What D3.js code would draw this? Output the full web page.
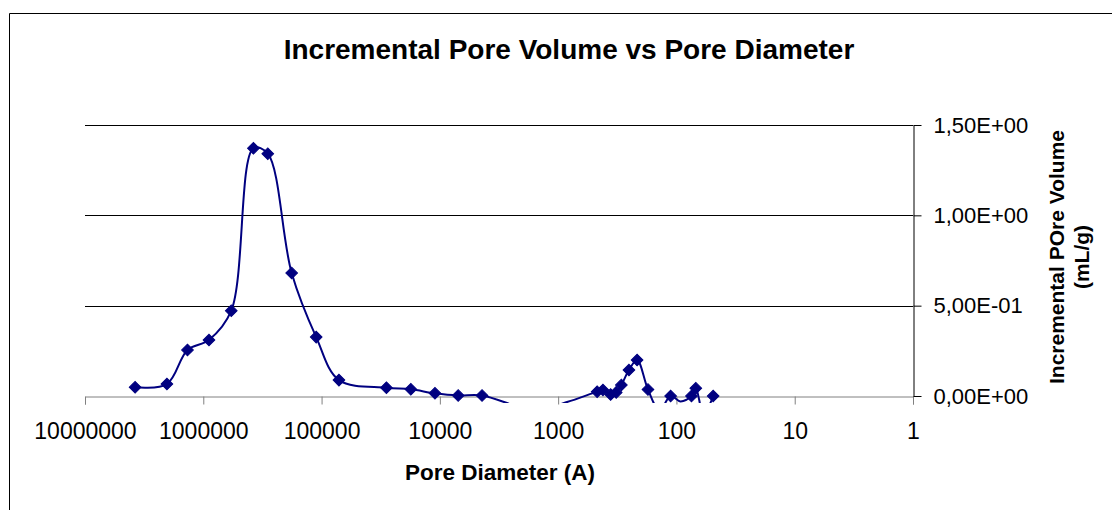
<!DOCTYPE html>
<html>
<head>
<meta charset="utf-8">
<script src="https://cdn.jsdelivr.net/npm/d3@7"></script>
<style>
  body { margin: 0; background: #fff; }
  svg { font-family: "Liberation Sans", Arial, sans-serif; }
</style>
</head>
<body>
<svg id="chart" width="1112" height="510"></svg>
<script>
// pore diameter (A) and incremental pore volume (mL/g)
let diameters = [3770000, 2030000, 1360000, 895000, 580000, 377000, 285000, 179000,
    111000, 71300, 28300, 17600, 11000, 7000, 4400, 1550, 855, 468, 418, 360, 323,
    292, 252, 215, 174, 139, 112, 92.5, 74.6, 68.6, 59, 48.9];
let volumes = [0.048, 0.066, 0.255, 0.31, 0.472, 1.371, 1.341, 0.681, 0.326, 0.088,
    0.046, 0.037, 0.015, 0.003, 0.003, -0.08, -0.035, 0.024, 0.033, 0.008, 0.02,
    0.061, 0.144, 0.199, 0.036, -0.08, 0.0, -0.03, 0.0, 0.043, -0.1, 0.0];
let xTicks = [10000000, 1000000, 100000, 10000, 1000, 100, 10, 1];
let yTicks = [0, 0.5, 1.0, 1.5];

let points = diameters.map(function(d, i) { return {d: d, v: volumes[i]}; });

let plotLeft = 85, plotRight = 913, plotTop = 125, plotBottom = 396;
let navy = '#000080';

let svg = d3.select('#chart');

// outer chart frame (runs off the right and bottom edges)
svg.append('path')
    .attr('d', 'M9.5,520 L9.5,13.5 L1120,13.5')
    .attr('fill', 'none')
    .attr('stroke', '#000')
    .attr('stroke-width', 1);

let x = d3.scaleLog().domain([10000000, 1]).range([plotLeft, plotRight]);
let y = d3.scaleLinear().domain([0, 1.5]).range([plotBottom, plotTop]);

// 1,50E+00 style labels
function sciComma(v) {
    let parts = v.toExponential(2).split('e');
    let exp = parseInt(parts[1], 10);
    let sign = exp < 0 ? '-' : '+';
    let e = String(Math.abs(exp)).padStart(2, '0');
    return parts[0].replace('.', ',') + 'E' + sign + e;
}

// gridlines
svg.append('g').selectAll('line')
    .data(yTicks.filter(function(t) { return t > 0; }))
    .enter().append('line')
    .attr('x1', plotLeft).attr('x2', plotRight)
    .attr('y1', function(d) { return Math.round(y(d)) + 0.5; })
    .attr('y2', function(d) { return Math.round(y(d)) + 0.5; })
    .attr('stroke', '#000')
    .attr('stroke-width', 1);

// x axis
let xAxis = svg.append('g')
    .attr('transform', 'translate(0,' + (plotBottom + 0.5) + ')')
    .call(d3.axisBottom(x).tickValues(xTicks).tickSize(8).tickPadding(18)
        .tickFormat(function(d) { return String(d); }));
xAxis.select('.domain').attr('stroke', '#808080');
xAxis.selectAll('.tick line').attr('stroke', '#808080');
xAxis.selectAll('text').attr('font-size', 23).attr('fill', '#000');

// y axis on the right
let yAxis = svg.append('g')
    .attr('transform', 'translate(' + (plotRight + 0.5) + ',0)')
    .call(d3.axisRight(y).tickValues(yTicks).tickSize(8).tickSizeOuter(0).tickPadding(12)
        .tickFormat(sciComma));
yAxis.select('.domain').attr('stroke', '#000');
yAxis.selectAll('.tick line').attr('stroke', '#000');
yAxis.selectAll('text').attr('font-size', 22).attr('fill', '#000');

// clip the line a little below the zero axis, like the original
svg.append('clipPath').attr('id', 'plotclip')
    .append('rect')
    .attr('x', plotLeft).attr('y', plotTop)
    .attr('width', plotRight - plotLeft).attr('height', plotBottom - plotTop + 7);

let line = d3.line()
    .x(function(d) { return x(d.d); })
    .y(function(d) { return y(d.v); })
    .curve(d3.curveCatmullRom.alpha(0.5));

svg.append('path')
    .datum(points)
    .attr('clip-path', 'url(#plotclip)')
    .attr('fill', 'none')
    .attr('stroke', navy)
    .attr('stroke-width', 2)
    .attr('d', line);

// diamond markers, only for points inside the axis range
let diamond = d3.symbol().type(d3.symbolSquare).size(68);
svg.append('g').selectAll('path')
    .data(points.filter(function(d) { return d.v >= 0; }))
    .enter().append('path')
    .attr('d', diamond)
    .attr('transform', function(d) {
        return 'translate(' + x(d.d) + ',' + y(d.v) + ') rotate(45)';
    })
    .attr('fill', navy)
    .attr('stroke', navy)
    .attr('stroke-width', 1);

// titles
svg.append('text')
    .attr('x', 569).attr('y', 59)
    .attr('text-anchor', 'middle')
    .attr('font-size', 28).attr('font-weight', 'bold')
    .text('Incremental Pore Volume vs Pore Diameter');

svg.append('text')
    .attr('x', 500).attr('y', 480)
    .attr('text-anchor', 'middle')
    .attr('font-size', 22.5).attr('font-weight', 'bold')
    .text('Pore Diameter (A)');

let yTitle = svg.append('text')
    .attr('transform', 'translate(1064,257) rotate(-90)')
    .attr('text-anchor', 'middle')
    .attr('font-size', 21).attr('font-weight', 'bold');
yTitle.append('tspan').attr('x', 0).attr('y', 0).text('Incremental POre Volume');
yTitle.append('tspan').attr('x', 0).attr('y', 25).text('(mL/g)');
</script>
</body>
</html>
